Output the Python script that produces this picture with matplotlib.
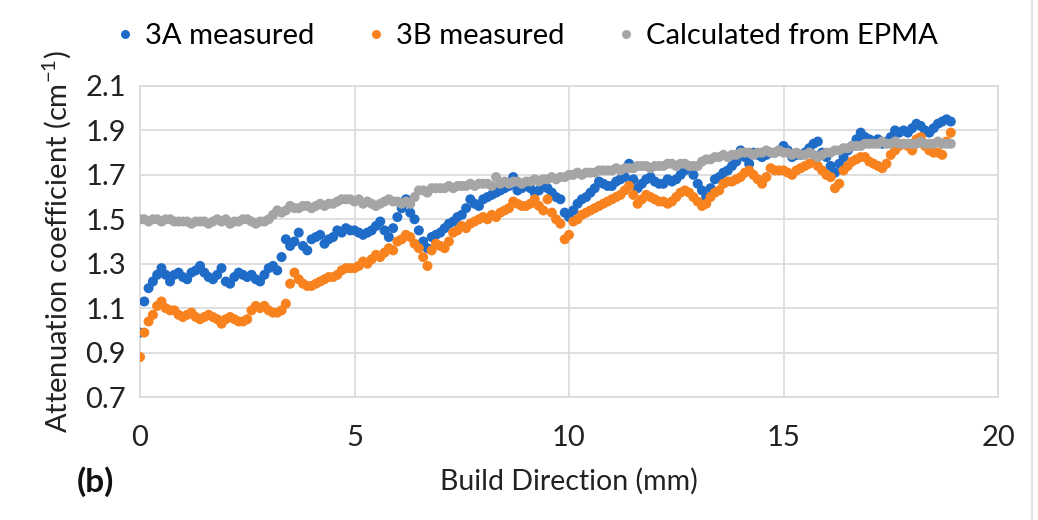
import numpy as np
import matplotlib.pyplot as plt
from matplotlib.lines import Line2D

plt.rcParams['font.family'] = ['Lato', 'DejaVu Sans']
plt.rcParams['mathtext.fontset'] = 'custom'
plt.rcParams['mathtext.rm'] = 'Lato'

# attenuation coefficient (cm^-1), one reading every 0.1 mm from 0 to 18.9 mm
step_mm = 0.1

mu_3a = [
    0.99, 1.13, 1.19, 1.22, 1.25, 1.28, 1.25, 1.22, 1.25, 1.26,
    1.24, 1.23, 1.26, 1.27, 1.29, 1.26, 1.24, 1.23, 1.25, 1.28,
    1.22, 1.21, 1.24, 1.26, 1.25, 1.24, 1.25, 1.23, 1.22, 1.25,
    1.28, 1.29, 1.27, 1.33, 1.41, 1.38, 1.40, 1.44, 1.38, 1.36,
    1.41, 1.42, 1.43, 1.39, 1.41, 1.42, 1.45, 1.44, 1.46, 1.45,
    1.45, 1.44, 1.43, 1.44, 1.45, 1.47, 1.49, 1.45, 1.42, 1.46,
    1.51, 1.55, 1.59, 1.53, 1.50, 1.45, 1.40, 1.37, 1.42, 1.43,
    1.44, 1.46, 1.48, 1.49, 1.51, 1.52, 1.55, 1.59, 1.57, 1.56,
    1.59, 1.60, 1.61, 1.62, 1.63, 1.64, 1.65, 1.69, 1.63, 1.64,
    1.65, 1.64, 1.62, 1.63, 1.65, 1.64, 1.62, 1.60, 1.59, 1.53,
    1.51, 1.54, 1.57, 1.59, 1.60, 1.62, 1.64, 1.67, 1.66, 1.65,
    1.65, 1.67, 1.68, 1.69, 1.75, 1.68, 1.64, 1.66, 1.68, 1.69,
    1.67, 1.66, 1.66, 1.68, 1.67, 1.68, 1.70, 1.72, 1.74, 1.70,
    1.66, 1.63, 1.60, 1.64, 1.68, 1.69, 1.71, 1.72, 1.74, 1.76,
    1.81, 1.78, 1.75, 1.80, 1.79, 1.78, 1.79, 1.80, 1.80, 1.81,
    1.83, 1.81, 1.78, 1.79, 1.79, 1.80, 1.82, 1.84, 1.85, 1.80,
    1.78, 1.74, 1.71, 1.75, 1.78, 1.81, 1.83, 1.86, 1.89, 1.87,
    1.86, 1.85, 1.86, 1.84, 1.85, 1.87, 1.90, 1.89, 1.90, 1.89,
    1.91, 1.93, 1.92, 1.90, 1.89, 1.91, 1.93, 1.94, 1.95, 1.94,
]

mu_3b = [
    0.88, 0.99, 1.04, 1.07, 1.11, 1.13, 1.10, 1.09, 1.09, 1.07,
    1.06, 1.07, 1.08, 1.06, 1.05, 1.06, 1.07, 1.06, 1.05, 1.03,
    1.05, 1.06, 1.05, 1.04, 1.04, 1.05, 1.09, 1.11, 1.10, 1.11,
    1.09, 1.08, 1.08, 1.09, 1.12, 1.21, 1.26, 1.23, 1.21, 1.20,
    1.20, 1.21, 1.22, 1.23, 1.24, 1.24, 1.25, 1.27, 1.28, 1.28,
    1.28, 1.29, 1.31, 1.30, 1.32, 1.34, 1.33, 1.35, 1.37, 1.36,
    1.40, 1.41, 1.43, 1.42, 1.39, 1.37, 1.33, 1.29, 1.36, 1.39,
    1.38, 1.37, 1.40, 1.44, 1.45, 1.47, 1.46, 1.48, 1.49, 1.50,
    1.51, 1.50, 1.52, 1.51, 1.53, 1.54, 1.55, 1.58, 1.57, 1.56,
    1.56, 1.57, 1.59, 1.56, 1.54, 1.59, 1.53, 1.50, 1.48, 1.41,
    1.43, 1.49, 1.50, 1.52, 1.53, 1.54, 1.55, 1.56, 1.57, 1.58,
    1.59, 1.60, 1.61, 1.63, 1.65, 1.61, 1.57, 1.59, 1.61, 1.60,
    1.59, 1.58, 1.58, 1.57, 1.58, 1.60, 1.62, 1.63, 1.62, 1.60,
    1.58, 1.56, 1.57, 1.60, 1.62, 1.63, 1.66, 1.67, 1.67, 1.68,
    1.69, 1.71, 1.72, 1.70, 1.68, 1.66, 1.69, 1.73, 1.72, 1.72,
    1.72, 1.71, 1.70, 1.72, 1.73, 1.74, 1.75, 1.76, 1.74, 1.72,
    1.70, 1.69, 1.64, 1.66, 1.72, 1.74, 1.76, 1.77, 1.78, 1.78,
    1.76, 1.75, 1.74, 1.73, 1.75, 1.79, 1.81, 1.83, 1.84, 1.83,
    1.81, 1.86, 1.87, 1.83, 1.81, 1.80, 1.80, 1.79, 1.85, 1.89,
]

mu_epma = [
    1.50, 1.50, 1.49, 1.50, 1.50, 1.49, 1.50, 1.50, 1.49, 1.49,
    1.49, 1.49, 1.48, 1.49, 1.49, 1.49, 1.48, 1.49, 1.50, 1.49,
    1.50, 1.48, 1.49, 1.49, 1.50, 1.50, 1.49, 1.48, 1.49, 1.49,
    1.50, 1.52, 1.54, 1.53, 1.54, 1.56, 1.55, 1.55, 1.56, 1.56,
    1.55, 1.56, 1.57, 1.56, 1.57, 1.57, 1.58, 1.59, 1.59, 1.59,
    1.58, 1.59, 1.57, 1.58, 1.57, 1.56, 1.57, 1.58, 1.59, 1.58,
    1.58, 1.57, 1.58, 1.57, 1.60, 1.63, 1.63, 1.62, 1.64, 1.64,
    1.64, 1.64, 1.65, 1.64, 1.65, 1.65, 1.65, 1.66, 1.65, 1.66,
    1.66, 1.66, 1.65, 1.69, 1.66, 1.67, 1.66, 1.67, 1.67, 1.66,
    1.67, 1.67, 1.68, 1.67, 1.68, 1.68, 1.69, 1.68, 1.69, 1.69,
    1.70, 1.70, 1.71, 1.70, 1.71, 1.71, 1.71, 1.72, 1.72, 1.72,
    1.72, 1.73, 1.72, 1.73, 1.73, 1.73, 1.74, 1.74, 1.74, 1.73,
    1.74, 1.74, 1.74, 1.75, 1.75, 1.74, 1.75, 1.75, 1.74, 1.74,
    1.74, 1.76, 1.77, 1.77, 1.78, 1.78, 1.79, 1.78, 1.79, 1.79,
    1.80, 1.80, 1.80, 1.79, 1.80, 1.80, 1.81, 1.80, 1.80, 1.81,
    1.80, 1.80, 1.79, 1.80, 1.79, 1.79, 1.80, 1.79, 1.78, 1.79,
    1.80, 1.80, 1.81, 1.81, 1.82, 1.82, 1.83, 1.83, 1.83, 1.84,
    1.84, 1.84, 1.84, 1.85, 1.84, 1.84, 1.85, 1.84, 1.84, 1.84,
    1.84, 1.84, 1.85, 1.84, 1.84, 1.84, 1.85, 1.84, 1.84, 1.84,
]

labels = ['3A measured', '3B measured', 'Calculated from EPMA']
colors = ['#1f6cc8', '#f7821e', '#a5a5a5']

build_mm = np.arange(len(mu_3a)) * step_mm

fig = plt.figure(figsize=(10.38, 5.2), dpi=100)
ax = fig.add_axes([140 / 1038, 1 - 397 / 520, 858 / 1038, 311 / 520])

for vals, c, lab in zip([mu_3a, mu_3b, mu_epma], colors, labels):
    ax.scatter(build_mm, vals, s=52, color=c, edgecolors='none', label=lab, zorder=3)

ax.set_xlim(0, 20)
ax.set_ylim(0.7, 2.1)
ax.set_xticks([0, 5, 10, 15, 20])
ax.set_yticks([0.7, 0.9, 1.1, 1.3, 1.5, 1.7, 1.9, 2.1])
ax.set_yticklabels(['0.7', '0.9', '1.1', '1.3', '1.5', '1.7', '1.9', '2.1'])
ax.grid(True, color='#dcdcdc', linewidth=1.3)
ax.set_axisbelow(True)
for sp in ax.spines.values():
    sp.set_color('#dcdcdc')
    sp.set_linewidth(1.3)
ax.tick_params(length=0, labelsize=21, colors='#222222', pad=10)
ax.tick_params(axis='x', pad=20)

ax.set_xlabel('Build Direction (mm)', fontsize=20.5, color='#222222', labelpad=12)
ax.set_ylabel('Attenuation coefficient (cm$^{-1}$)', fontsize=21, color='#222222', labelpad=8)

fig.text(95 / 1038, 1 - 482 / 520, '(b)', fontsize=24, fontweight='bold',
         ha='center', va='center', color='#111111')

handles = [Line2D([], [], ls='none', marker='o', markersize=6.5, color=c,
                  markeredgewidth=0) for c in colors]
fig.legend(handles, labels, loc='center', bbox_to_anchor=(0.505, 1 - 36 / 520),
           ncol=3, frameon=False, fontsize=21, handletextpad=0.2,
           columnspacing=1.6, handlelength=1.0)

# faint border on the right side of the original panel
fig.add_artist(Line2D([1032 / 1038, 1032 / 1038], [0, 1], color='#e4e4e4', lw=1.5))

plt.savefig('out.png', dpi=100)
plt.close()
